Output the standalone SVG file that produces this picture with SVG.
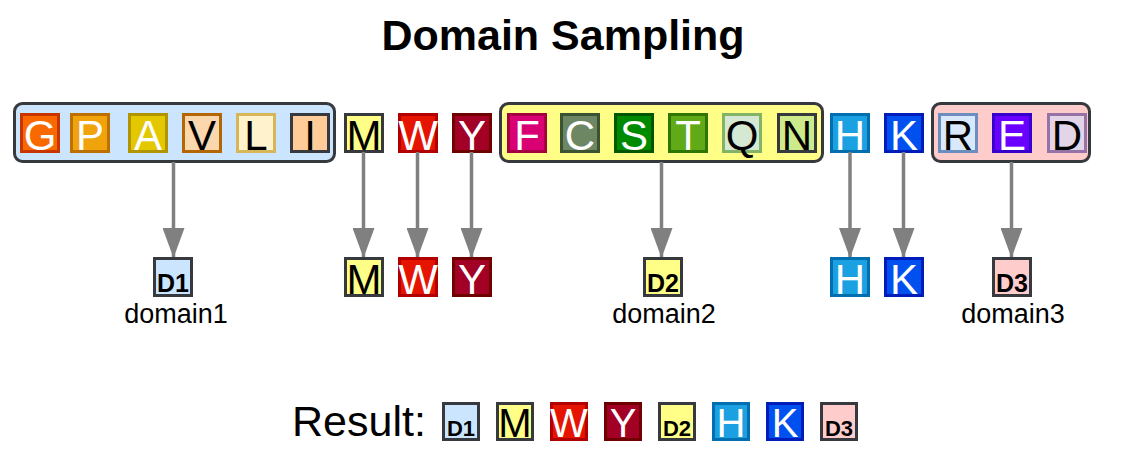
<svg xmlns="http://www.w3.org/2000/svg" width="1122" height="462" viewBox="0 0 1122 462">
<style>
text{font-family:"Liberation Sans",Arial,sans-serif;text-anchor:middle}
.title{font-size:43px;font-weight:bold;fill:#000}
.grp{stroke:#36393d;stroke-width:3}
.box{stroke-width:3}
.L{font-size:42px}
.S{font-size:40px}
.w{fill:#fff}
.k{fill:#000}
.d{font-size:25px;font-weight:bold;fill:#000}
.ds{font-size:22px;font-weight:bold;fill:#000}
.lbl{font-size:27px;fill:#000}
.res{font-size:43px;fill:#000;text-anchor:start}
.conn{stroke:#808080;stroke-width:3.5;fill:none}
</style>
<defs>
<marker id="ah" markerWidth="30" markerHeight="22" refX="30" refY="11" orient="auto" markerUnits="userSpaceOnUse" viewBox="0 0 30 22">
<path d="M0,0 L30,11 L0,22 Z" fill="#808080"/>
</marker>
</defs>
<text class="title" x="563" y="50">Domain Sampling</text>

<g id="domain1-group">
<rect class="grp" x="14.5" y="103.5" width="320" height="58" rx="8" fill="#cce5ff"/>
</g>
<g id="domain2-group">
<rect class="grp" x="500.5" y="103.5" width="322" height="58" rx="8" fill="#ffff88"/>
</g>
<g id="domain3-group">
<rect class="grp" x="932.5" y="103.5" width="157" height="58" rx="8" fill="#ffcccc"/>
</g>

<g id="res-G"><rect class="box" x="21.5" y="114.5" width="37" height="37" fill="#fa6800" stroke="#c73500"/><text class="L w" x="40" y="150">G</text></g>
<g id="res-P"><rect class="box" x="71.5" y="114.5" width="37" height="37" fill="#f0a30a" stroke="#bd7000"/><text class="L w" x="90" y="150">P</text></g>
<g id="res-A"><rect class="box" x="129.5" y="114.5" width="37" height="37" fill="#e3c800" stroke="#b09500"/><text class="L w" x="148" y="150">A</text></g>
<g id="res-V"><rect class="box" x="183.5" y="114.5" width="37" height="37" fill="#fad7ac" stroke="#b46504"/><text class="L k" x="202" y="150">V</text></g>
<g id="res-L"><rect class="box" x="237.5" y="114.5" width="37" height="37" fill="#fff2cc" stroke="#d6b656"/><text class="L k" x="256" y="150">L</text></g>
<g id="res-I"><rect class="box" x="291.5" y="114.5" width="37" height="37" fill="#ffcc99" stroke="#36393d"/><text class="L k" x="310" y="150">I</text></g>
<g id="res-M"><rect class="box" x="345.5" y="114.5" width="37" height="37" fill="#ffff88" stroke="#36393d"/><text class="L k" x="364" y="150">M</text></g>
<g id="res-W"><rect class="box" x="399.5" y="114.5" width="37" height="37" fill="#e51400" stroke="#b20000"/><text class="L w" x="418" y="150">W</text></g>
<g id="res-Y"><rect class="box" x="453.5" y="114.5" width="37" height="37" fill="#a20025" stroke="#6f0000"/><text class="L w" x="472" y="150">Y</text></g>
<g id="res-F"><rect class="box" x="508.5" y="114.5" width="37" height="37" fill="#d80073" stroke="#a50040"/><text class="L w" x="527" y="150">F</text></g>
<g id="res-C"><rect class="box" x="561.5" y="114.5" width="37" height="37" fill="#6d8764" stroke="#3a5431"/><text class="L w" x="580" y="150">C</text></g>
<g id="res-S"><rect class="box" x="615.5" y="114.5" width="37" height="37" fill="#008a00" stroke="#005700"/><text class="L w" x="634" y="150">S</text></g>
<g id="res-T"><rect class="box" x="669.5" y="114.5" width="37" height="37" fill="#60a917" stroke="#2d7600"/><text class="L w" x="688" y="150">T</text></g>
<g id="res-Q"><rect class="box" x="723.5" y="114.5" width="37" height="37" fill="#d5e8d4" stroke="#82b366"/><text class="L k" x="742" y="150">Q</text></g>
<g id="res-N"><rect class="box" x="778.5" y="114.5" width="37" height="37" fill="#cdeb8b" stroke="#36393d"/><text class="L k" x="797" y="150">N</text></g>
<g id="res-H"><rect class="box" x="831.5" y="114.5" width="37" height="37" fill="#1ba1e2" stroke="#006eaf"/><text class="L w" x="850" y="150">H</text></g>
<g id="res-K"><rect class="box" x="885.5" y="114.5" width="37" height="37" fill="#0050ef" stroke="#001dbc"/><text class="L w" x="904" y="150">K</text></g>
<g id="res-R"><rect class="box" x="939.5" y="114.5" width="37" height="37" fill="#dae8fc" stroke="#6c8ebf"/><text class="L k" x="958" y="150">R</text></g>
<g id="res-E"><rect class="box" x="993.5" y="114.5" width="37" height="37" fill="#6a00ff" stroke="#3700cc"/><text class="L w" x="1012" y="150">E</text></g>
<g id="res-D"><rect class="box" x="1048.5" y="114.5" width="37" height="37" fill="#e1d5e7" stroke="#9673a6"/><text class="L k" x="1067" y="150">D</text></g>

<g id="connectors">
<line class="conn" x1="173.5" y1="162" x2="173.5" y2="258" marker-end="url(#ah)"/>
<line class="conn" x1="363.5" y1="152" x2="363.5" y2="258" marker-end="url(#ah)"/>
<line class="conn" x1="417.5" y1="152" x2="417.5" y2="258" marker-end="url(#ah)"/>
<line class="conn" x1="471.5" y1="152" x2="471.5" y2="258" marker-end="url(#ah)"/>
<line class="conn" x1="661.5" y1="162" x2="661.5" y2="258" marker-end="url(#ah)"/>
<line class="conn" x1="850" y1="152" x2="850" y2="258" marker-end="url(#ah)"/>
<line class="conn" x1="903.5" y1="152" x2="903.5" y2="258" marker-end="url(#ah)"/>
<line class="conn" x1="1011.5" y1="162" x2="1011.5" y2="258" marker-end="url(#ah)"/>
</g>

<g id="D1"><rect class="box" x="154.5" y="258.5" width="37" height="37" fill="#cce5ff" stroke="#36393d"/><text class="d" x="173" y="292">D1</text><text class="lbl" x="176" y="323">domain1</text></g>
<g id="M"><rect class="box" x="345.5" y="258.5" width="37" height="37" fill="#ffff88" stroke="#36393d"/><text class="L k" x="364" y="294">M</text></g>
<g id="W"><rect class="box" x="399.5" y="258.5" width="37" height="37" fill="#e51400" stroke="#b20000"/><text class="L w" x="418" y="294">W</text></g>
<g id="Y"><rect class="box" x="453.5" y="258.5" width="37" height="37" fill="#a20025" stroke="#6f0000"/><text class="L w" x="472" y="294">Y</text></g>
<g id="D2"><rect class="box" x="644.5" y="258.5" width="37" height="37" fill="#ffff88" stroke="#36393d"/><text class="d" x="663" y="292">D2</text><text class="lbl" x="664" y="323">domain2</text></g>
<g id="H"><rect class="box" x="831.5" y="258.5" width="37" height="37" fill="#1ba1e2" stroke="#006eaf"/><text class="L w" x="850" y="294">H</text></g>
<g id="K"><rect class="box" x="885.5" y="258.5" width="37" height="37" fill="#0050ef" stroke="#001dbc"/><text class="L w" x="904" y="294">K</text></g>
<g id="D3"><rect class="box" x="993.5" y="258.5" width="37" height="37" fill="#ffcccc" stroke="#36393d"/><text class="d" x="1012" y="292">D3</text><text class="lbl" x="1013" y="323">domain3</text></g>

<g id="result">
<text class="res" x="292" y="436">Result:</text>
<rect class="box" x="443.5" y="403.5" width="35" height="36" fill="#cce5ff" stroke="#36393d"/><text class="ds" x="461" y="436">D1</text>
<rect class="box" x="497.5" y="403.5" width="35" height="36" fill="#ffff88" stroke="#36393d"/><text class="S k" x="515" y="437">M</text>
<rect class="box" x="551.5" y="403.5" width="35" height="36" fill="#e51400" stroke="#b20000"/><text class="S w" x="569" y="437">W</text>
<rect class="box" x="605.5" y="403.5" width="35" height="36" fill="#a20025" stroke="#6f0000"/><text class="S w" x="623" y="437">Y</text>
<rect class="box" x="659.5" y="403.5" width="35" height="36" fill="#ffff88" stroke="#36393d"/><text class="ds" x="677" y="436">D2</text>
<rect class="box" x="713.5" y="403.5" width="35" height="36" fill="#1ba1e2" stroke="#006eaf"/><text class="S w" x="731" y="437">H</text>
<rect class="box" x="767.5" y="403.5" width="35" height="36" fill="#0050ef" stroke="#001dbc"/><text class="S w" x="785" y="437">K</text>
<rect class="box" x="821.5" y="403.5" width="35" height="36" fill="#ffcccc" stroke="#36393d"/><text class="ds" x="839" y="436">D3</text>
</g>
</svg>
